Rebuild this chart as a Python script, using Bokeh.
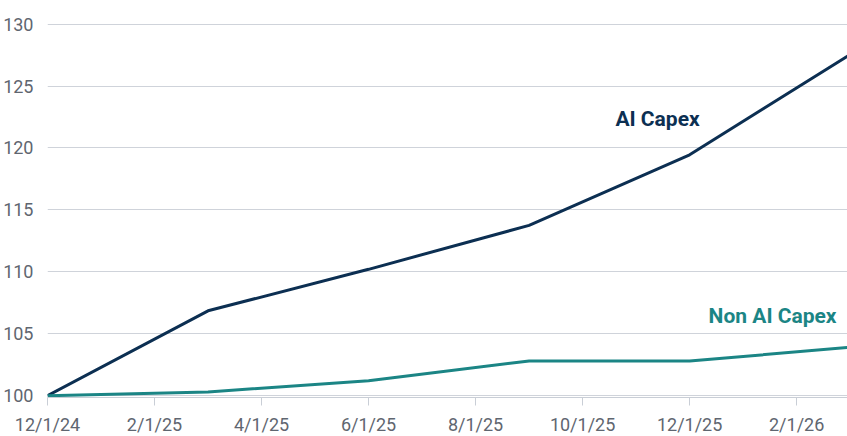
from bokeh.plotting import figure
from bokeh.models import Range1d, FixedTicker, Label
from bokeh.embed import file_html
from bokeh.resources import INLINE

# Month index from 12/1/24
dates = ["12/1/24", "3/1/25", "6/1/25", "9/1/25", "12/1/25", "3/1/26"]
months = [0, 3, 6, 9, 12, 15]
ai_capex = [100.0, 106.85, 110.2, 113.75, 119.45, 127.55]
non_ai_capex = [100.0, 100.3, 101.2, 102.8, 102.8, 103.9]

tick_months = [0, 2, 4, 6, 8, 10, 12, 14]
tick_labels = ["12/1/24", "2/1/25", "4/1/25", "6/1/25", "8/1/25", "10/1/25", "12/1/25", "2/1/26"]
y_ticks = [100, 105, 110, 115, 120, 125, 130]

FONT = "Roboto"
AI_COLOR = "#0c2f52"
NON_AI_COLOR = "#1b8585"
GRAY = "#5f6670"

p = figure(frame_width=800, frame_height=374, output_backend="svg", toolbar_location=None,
           x_range=Range1d(0, 14.95), y_range=Range1d(99.85, 130.05),
           min_border_left=46, min_border_right=0, min_border_top=23, min_border_bottom=2)
p.outline_line_color = None
p.background_fill_color = "white"

p.line(months, ai_capex, line_color=AI_COLOR, line_width=3)
p.line(months, non_ai_capex, line_color=NON_AI_COLOR, line_width=3)

p.xaxis.ticker = FixedTicker(ticks=tick_months)
p.xaxis.major_label_overrides = {m: l for m, l in zip(tick_months, tick_labels)}
p.xaxis.minor_tick_line_color = None
p.xaxis.axis_line_color = "#c9ced6"
p.xaxis.major_tick_line_color = "#c9ced6"
p.xaxis.major_tick_in = 0
p.xaxis.major_tick_out = 8
p.xaxis.major_label_standoff = 8
p.xaxis.major_label_text_font = FONT
p.xaxis.major_label_text_font_size = "18px"
p.xaxis.major_label_text_color = GRAY

p.yaxis.ticker = FixedTicker(ticks=y_ticks)
p.yaxis.axis_line_color = None
p.yaxis.major_tick_line_color = None
p.yaxis.minor_tick_line_color = None
p.yaxis.major_label_standoff = 8
p.yaxis.major_label_text_font = FONT
p.yaxis.major_label_text_font_size = "18px"
p.yaxis.major_label_text_color = GRAY

p.xgrid.grid_line_color = None
p.ygrid.grid_line_color = "#cfd3da"
p.ygrid.grid_line_width = 1

p.add_layout(Label(x=11.4, y=122.35, text="AI Capex", text_align="center", text_baseline="middle",
                   text_font=FONT, text_font_style="bold", text_font_size="21px", text_color=AI_COLOR))
p.add_layout(Label(x=13.55, y=106.45, text="Non AI Capex", text_align="center", text_baseline="middle",
                   text_font=FONT, text_font_style="bold", text_font_size="21px", text_color=NON_AI_COLOR))

open("out.html", "w").write(file_html(p, INLINE))
